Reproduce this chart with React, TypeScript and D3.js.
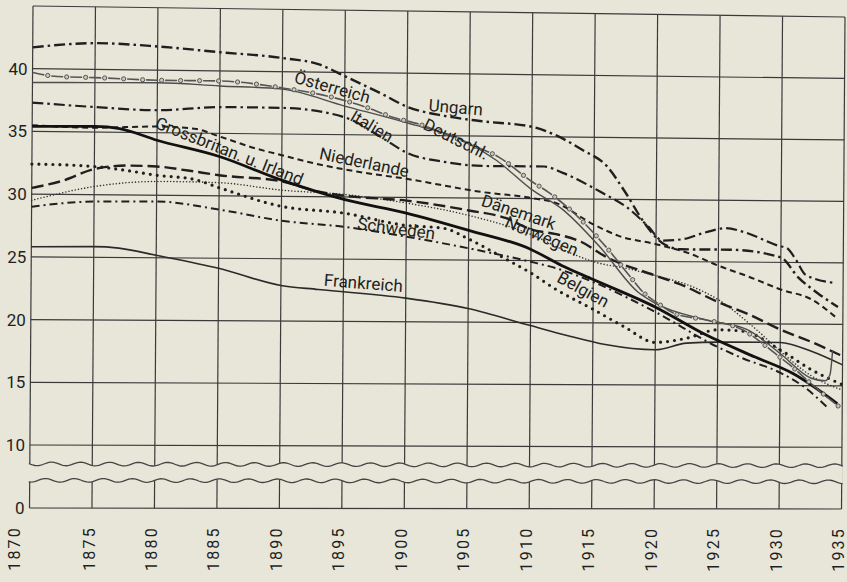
import * as d3 from "d3";
import { useEffect, useRef } from "react";

const W = 847;
const H = 582;
const LEFT = 33;
const RIGHT = 845;
const TOP = 6;
const Y10 = 445;
const BOTTOM = 508;
// the scanned sheet is slightly skewed: right side sags, bottom leans left
const LEAN = 3.5;
const DROP_TOP = 11;
const DROP_BOTTOM = 1;
const PAPER = "#e8e6d8";
const INK = "#1f1f1f";

const yearTicks = d3.range(1870, 1940, 5);
const gridValues = [0, 10, 15, 20, 25, 30, 35, 40, 45];
const valueLabels = [0, 10, 15, 20, 25, 30, 35, 40];
const breakValues = [7.0, 4.4];

// births per 1000 inhabitants, [year, value]
const ungarn = [
  [1870, 41.7], [1875, 42.1], [1880, 41.9], [1885, 41.5], [1890, 41.1], [1893, 40.6],
  [1895, 39.7], [1898, 38.3], [1900, 37.3], [1903, 36.6], [1906, 36.2], [1910, 35.8],
  [1912, 35.1], [1914, 34.0], [1916, 32.7], [1917.5, 30.6], [1919, 28.2], [1920.5, 26.5],
  [1922, 26.0], [1926, 26.0], [1930, 25.4], [1931.4, 23.8], [1933, 22.5], [1934.6, 21.4],
];
const oesterreich = [
  [1870, 39.7], [1872, 39.4], [1875, 39.35], [1880, 39.2], [1885, 39.2], [1890, 38.7],
  [1894, 38.0], [1896.5, 37.3], [1899, 36.4], [1901, 35.9], [1905, 34.35], [1907.4, 33.3],
  [1910, 31.4], [1911.4, 30.5], [1913.8, 28.5], [1916, 26.15], [1918, 23.7], [1919, 22.5],
  [1920.2, 21.6], [1921.5, 20.8], [1924, 20.3], [1927, 19.5], [1929.6, 17.6], [1931, 16.5],
  [1932.5, 15.15], [1934.8, 13.25],
];
const deutschland = [
  [1870, 38.9], [1875, 38.95], [1880, 39.0], [1885, 38.8], [1890, 38.6], [1895, 37.3],
  [1900, 36.0], [1904.5, 34.65], [1907.2, 33.05], [1910, 30.75], [1912.5, 29.15],
  [1915.5, 26.15], [1918.6, 22.5], [1920, 21.6], [1924, 20.3], [1927.4, 19.5], [1930, 17.6],
  [1932.5, 15.6], [1933.6, 15.4], [1934, 15.9], [1934.2, 17.9],
];
const italien = [
  [1870, 37.3], [1875, 37.0], [1880, 36.8], [1885, 37.1], [1890, 37.1], [1895, 36.4],
  [1898, 34.8], [1900, 33.6], [1903, 32.9], [1906, 32.6], [1911, 32.6], [1912.5, 32.1],
  [1915.7, 30.5], [1917.6, 29.4], [1919.4, 27.8], [1920.5, 26.7], [1922, 26.8], [1924, 27.4],
  [1925.6, 27.75], [1927, 27.45], [1929.8, 26.35], [1930.5, 26.15], [1931.2, 25.25],
  [1932, 24.0], [1934.4, 23.35],
];
const niederlande = [
  [1870, 35.5], [1875, 35.35], [1880, 35.5], [1883, 35.35], [1885, 34.75], [1888, 33.8],
  [1890, 33.3], [1892.5, 32.7], [1896, 32.05], [1900, 31.5], [1906, 30.5], [1910, 30.05],
  [1912, 29.65], [1915, 27.95], [1917, 27.05], [1920, 26.4], [1922.6, 25.7], [1925, 24.7],
  [1927.5, 23.8], [1930, 22.8], [1932.5, 22.0], [1934.4, 20.6],
];
const grossbritannien = [
  [1870, 35.4], [1875, 35.45], [1877, 35.3], [1880, 34.4], [1885, 33.15], [1890, 31.3],
  [1895, 29.8], [1900, 28.75], [1905, 27.4], [1910, 25.9], [1912.5, 24.6], [1915, 23.5],
  [1920, 21.3], [1924, 19.1], [1928, 17.3], [1931, 16.0], [1934.6, 13.55],
];
const belgien = [
  [1870, 32.4], [1875, 32.25], [1878, 31.9], [1880, 31.6], [1883, 31.3], [1885, 30.65],
  [1890, 29.2], [1895, 28.7], [1900, 27.75], [1903, 27.55], [1905, 26.7], [1908, 25.1],
  [1910, 24.0], [1912, 22.7], [1915, 21.1], [1917.5, 19.7], [1920, 18.45], [1922.5, 18.8],
  [1925, 19.5], [1927, 19.4], [1930, 17.9], [1932.5, 16.3], [1935, 15.1],
];
const daenemark = [
  [1870, 30.5], [1872.5, 31.1], [1875, 32.05], [1877.5, 32.35], [1880, 32.3], [1882.5, 32.0],
  [1885, 31.65], [1890, 31.2], [1893, 30.4], [1895, 30.1], [1900, 29.75], [1905, 29.0],
  [1908, 28.4], [1910, 27.5], [1912, 27.15], [1914, 26.55], [1916, 25.35], [1920, 23.85],
  [1922, 23.15], [1925, 21.75], [1927.5, 20.75], [1930, 19.55], [1932.5, 18.55], [1934.8, 17.5],
];
const norwegen = [
  [1870, 29.5], [1875, 30.65], [1880, 31.1], [1885, 31.05], [1890, 30.5], [1895, 30.2],
  [1900, 29.55], [1905, 28.6], [1910, 27.1], [1913, 25.7], [1915, 24.95], [1918, 24.35],
  [1920, 23.85], [1923, 22.95], [1925, 21.95], [1928, 19.6], [1930, 17.8], [1932.5, 15.8],
  [1935, 14.65],
];
const schweden = [
  [1870, 29.0], [1875, 29.45], [1880, 29.5], [1885, 28.9], [1890, 28.05], [1895, 27.6],
  [1900, 26.85], [1905, 25.95], [1910, 24.9], [1912, 24.4], [1915, 23.3], [1920, 20.9],
  [1925, 18.1], [1927, 17.2], [1930, 16.05], [1932, 14.85], [1933.8, 13.25],
];
const frankreich = [
  [1870, 25.8], [1875, 25.85], [1877, 25.75], [1880, 25.2], [1885, 24.2], [1890, 22.85],
  [1893, 22.55], [1900, 21.9], [1905, 21.1], [1910, 19.75], [1913, 18.95], [1916, 18.25],
  [1920, 17.85], [1922.5, 18.4], [1925, 18.5], [1930, 18.5], [1932.5, 17.8], [1935, 16.7],
];

const series = [
  { name: "Frankreich", data: frankreich, stroke: "#2a2a2a", width: 1.6, dash: null },
  { name: "Schweden", data: schweden, stroke: INK, width: 2, dash: "8 4 2 4" },
  { name: "Norwegen", data: norwegen, stroke: "#333", width: 1.6, dash: "0 3.2", round: true },
  { name: "Dänemark", data: daenemark, stroke: INK, width: 2.4, dash: "12 5" },
  { name: "Belgien", data: belgien, stroke: INK, width: 3.2, dash: "0 7", round: true },
  { name: "Niederlande", data: niederlande, stroke: INK, width: 2, dash: "6 4" },
  { name: "Grossbritannien", data: grossbritannien, stroke: "#111", width: 2.8, dash: null },
  { name: "Italien", data: italien, stroke: INK, width: 2.2, dash: "11 4 2.5 4" },
  { name: "Deutschland", data: deutschland, stroke: "#4d4d4d", width: 1.4, dash: null },
  { name: "Österreich", data: oesterreich, stroke: "#555", width: 1.6, dash: "12 7", rings: true },
  { name: "Ungarn", data: ungarn, stroke: INK, width: 2.4, dash: "11 4 2.5 4" },
];

// in-chart labels, anchored in data units
const labels = [
  { text: "Ungarn", year: 1903.9, value: 37.3, angle: 4 },
  { text: "Österreich", year: 1894.0, value: 38.8, angle: 15 },
  { text: "Italien", year: 1897.2, value: 35.7, angle: 30 },
  { text: "Deutschl.", year: 1903.95, value: 34.75, angle: 26 },
  { text: "Niederlande", year: 1896.6, value: 32.8, angle: 11 },
  { text: "Grossbritan. u. Irland", year: 1885.8, value: 33.6, angle: 21 },
  { text: "Dänemark", year: 1909.0, value: 28.9, angle: 18 },
  { text: "Norwegen", year: 1910.85, value: 27.0, angle: 22 },
  { text: "Schweden", year: 1899.2, value: 27.5, angle: 7 },
  { text: "Belgien", year: 1914.2, value: 22.7, angle: 28 },
  { text: "Frankreich", year: 1896.6, value: 23.1, angle: 4 },
];

const warp = (px: number, py: number): [number, number] => {
  const fy = (py - TOP) / (BOTTOM - TOP);
  const fx = (px - LEFT) / (RIGHT - LEFT);
  return [px - fy * LEAN, py + fx * (DROP_TOP + (DROP_BOTTOM - DROP_TOP) * fy)];
};

const App = () => {
  const ref = useRef<SVGSVGElement>(null);

  useEffect(() => {
    const svg = d3.select(ref.current);
    svg.selectAll("*").remove();

    const x = d3.scaleLinear().domain([1870, 1935]).range([LEFT, RIGHT]);
    const y = d3.scaleLinear().domain([0, 10, 45]).range([BOTTOM, Y10, TOP]);
    const pt = (yr: number, v: number) => warp(x(yr), y(v));

    svg.append("rect").attr("width", W).attr("height", H).attr("fill", PAPER);

    // grid
    const grid = svg.append("g").attr("stroke", "#3a3a3a").attr("stroke-width", 1.2);
    yearTicks.forEach((t) => {
      const [x1, y1] = pt(t, 45);
      const [x2, y2] = pt(t, 0);
      grid.append("line").attr("x1", x1).attr("y1", y1).attr("x2", x2).attr("y2", y2);
    });
    gridValues.forEach((v) => {
      const [x1, y1] = pt(1870, v);
      const [x2, y2] = pt(1935, v);
      grid.append("line").attr("x1", x1).attr("y1", y1).attr("x2", x2).attr("y2", y2);
    });

    // axis break
    const wave = (v: number, phase: number) =>
      d3.range(LEFT - 1, RIGHT + 2, 2).map((px) =>
        warp(px, y(v) + 1.8 * Math.sin(((px - LEFT) / 29) * 2 * Math.PI + phase))
      );
    const upper = wave(breakValues[0], 0);
    const lower = wave(breakValues[1], 1.3);
    const straight = d3.line();
    svg.append("path")
      .attr("d", straight(upper.concat(lower.slice().reverse())) + "Z")
      .attr("fill", PAPER);
    [upper, lower].forEach((w) => {
      svg.append("path").attr("d", straight(w)).attr("fill", "none")
        .attr("stroke", "#444").attr("stroke-width", 1.3);
    });

    // series
    const line = d3.line().curve(d3.curveMonotoneX);
    series.forEach((s) => {
      const path = svg.append("path")
        .attr("d", line(s.data.map(([yr, v]) => pt(yr, v))))
        .attr("fill", "none")
        .attr("stroke", s.stroke)
        .attr("stroke-width", s.width)
        .attr("stroke-linecap", s.round ? "round" : "butt")
        .attr("stroke-dasharray", s.dash);
      if (s.rings) {
        const node = path.node() as SVGPathElement;
        const len = node.getTotalLength();
        for (let l = 15.5; l < len; l += 19) {
          const p = node.getPointAtLength(l);
          svg.append("circle").attr("cx", p.x).attr("cy", p.y).attr("r", 2.1)
            .attr("fill", "#c9c7bb").attr("stroke", "#555").attr("stroke-width", 1);
        }
      }
    });

    // labels
    const font = "Roboto, 'Liberation Sans', sans-serif";
    labels.forEach((d) => {
      const [lx, ly] = pt(d.year, d.value);
      svg.append("text")
        .attr("transform", `translate(${lx},${ly}) rotate(${d.angle + 0.6})`)
        .attr("text-anchor", "middle")
        .attr("dy", "0.35em")
        .attr("font-family", font)
        .attr("font-size", 17)
        .attr("fill", INK)
        .text(d.text);
    });

    valueLabels.forEach((v) => {
      const [lx, ly] = pt(1870, v);
      svg.append("text")
        .attr("x", lx - 5).attr("y", ly).attr("dy", "0.35em")
        .attr("text-anchor", "end")
        .attr("font-family", font).attr("font-size", 17).attr("fill", INK)
        .text(v);
    });

    yearTicks.forEach((t, i) => {
      const [lx, ly] = pt(t, 0);
      // first year sits out under the value labels, the rest centre on their grid line
      const cx = i === 0 ? lx - 15 : lx - 3;
      svg.append("text")
        .attr("transform", `translate(${cx},${ly + 18}) rotate(-90)`)
        .attr("text-anchor", "end")
        .attr("dy", "0.35em")
        .attr("font-family", font).attr("font-size", 16)
        .attr("letter-spacing", 2.2)
        .attr("fill", INK)
        .text(t);
    });
  }, []);

  return (
    <div style={{ position: "fixed", left: 0, top: 0, width: W, height: H, background: PAPER }}>
      <svg ref={ref} width={W} height={H} style={{ display: "block" }} />
    </div>
  );
};

export default App;
